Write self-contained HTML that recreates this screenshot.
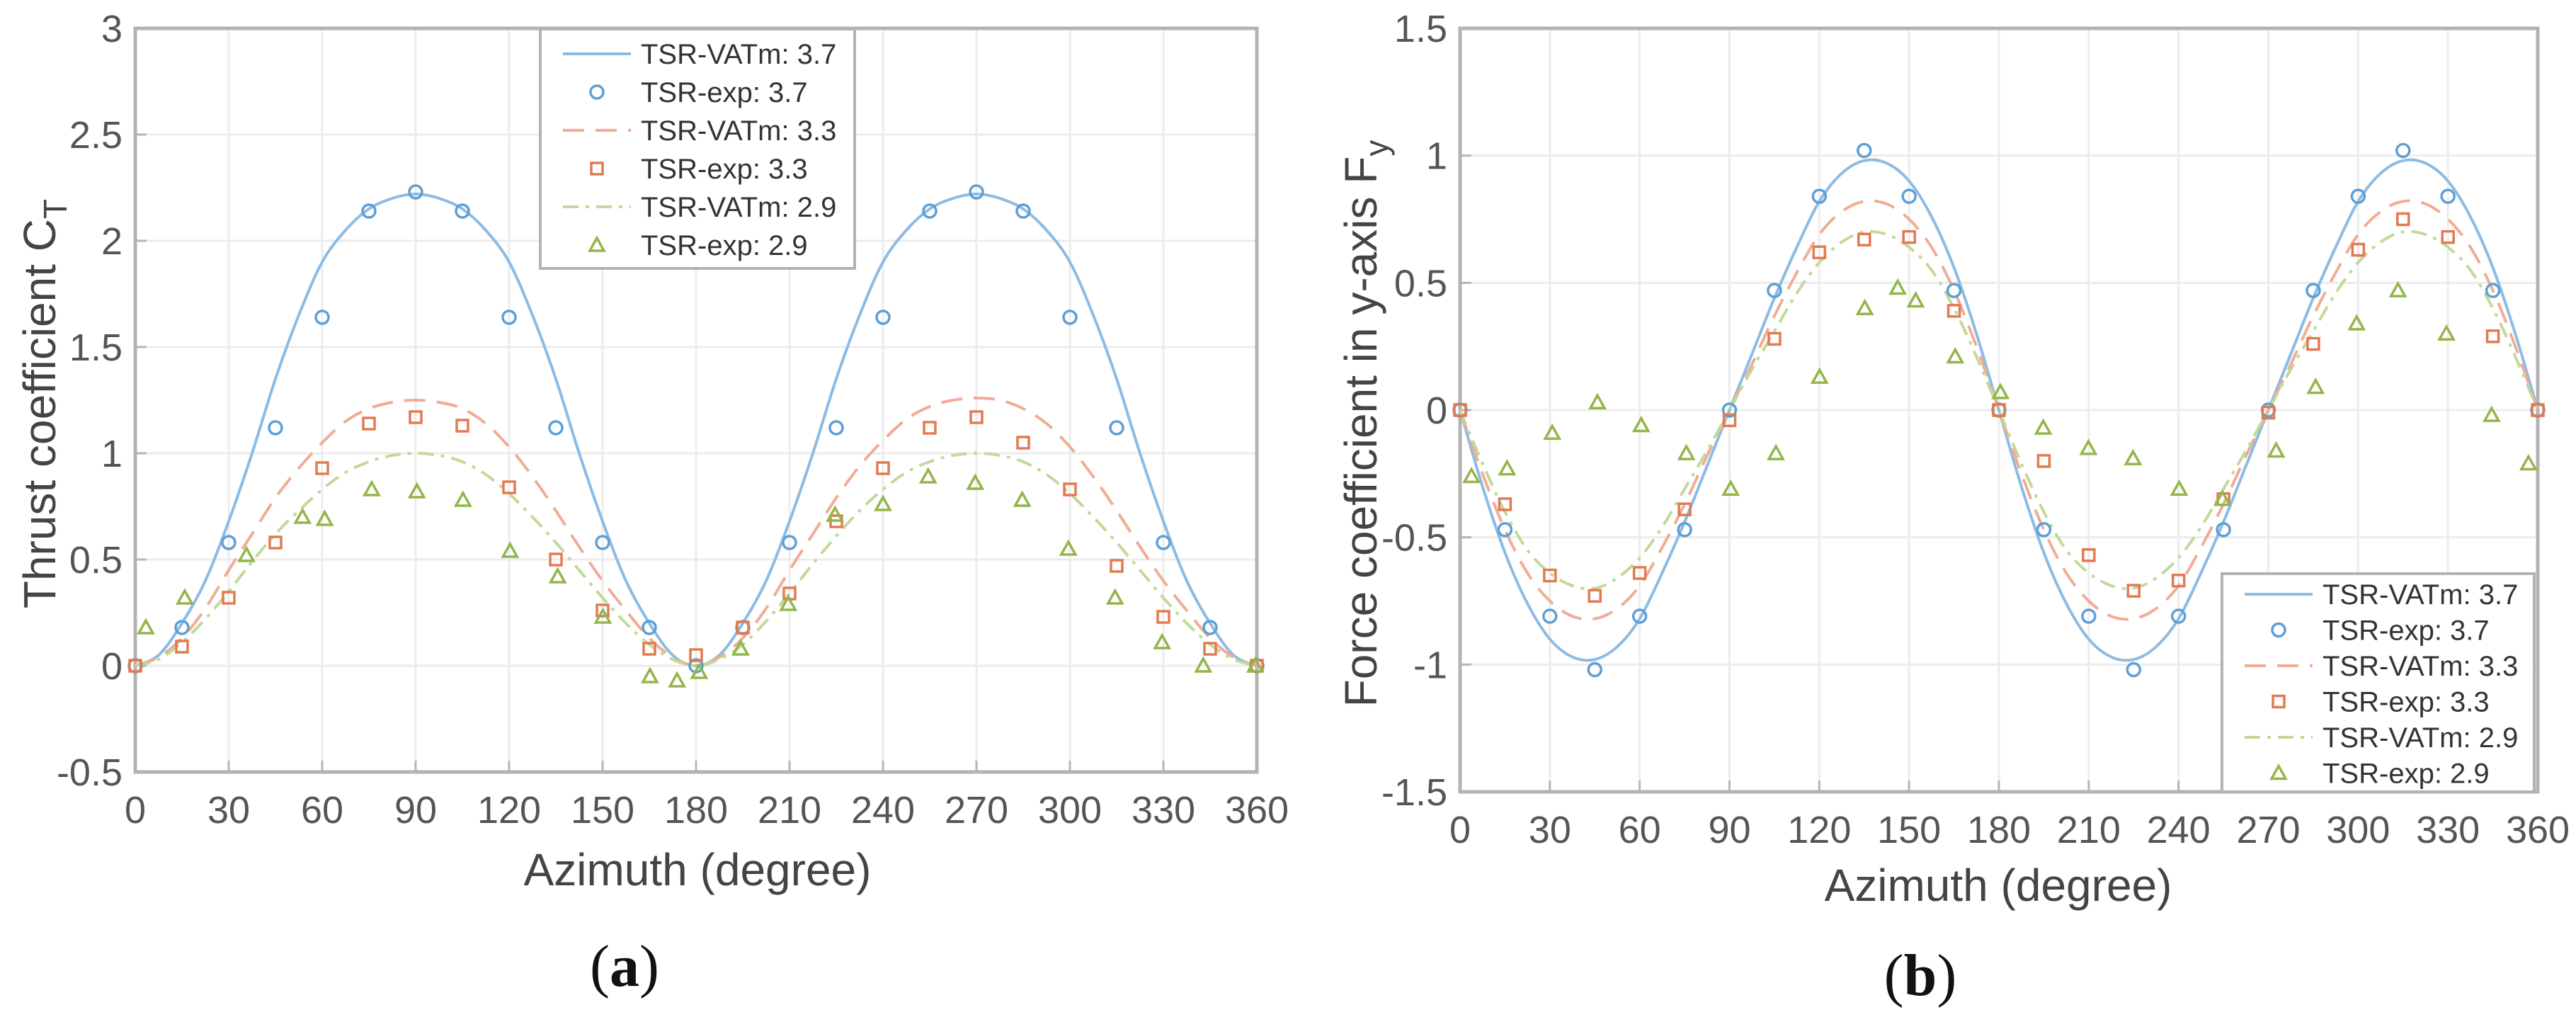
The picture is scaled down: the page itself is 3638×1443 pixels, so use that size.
<!DOCTYPE html>
<html><head><meta charset="utf-8"><style>
html,body{margin:0;padding:0;background:#fff;}
svg{display:block;font-family:"Liberation Sans",sans-serif;}
</style></head><body>
<svg id="fig" width="3638" height="1443" viewBox="0 0 3638 1443" xmlns="http://www.w3.org/2000/svg"></svg>
<script>
// ---------- Chart (a) data ----------
const aLineX = [0,7.5,15,22.5,30,37.5,45,52.5,60,67.5,75,82.5,90,97.5,105,112.5,120,127.5,135,142.5,150,157.5,165,172.5,180,187.5,195,202.5,210,217.5,225,232.5,240,247.5,255,262.5,270,277.5,285,292.5,300,307.5,315,322.5,330,337.5,345,352.5,360];
const aVat37 = [0,0.05,0.2,0.4,0.68,1.0,1.35,1.65,1.9,2.05,2.15,2.2,2.22,2.2,2.15,2.05,1.9,1.65,1.35,1.0,0.68,0.4,0.2,0.05,0,0.05,0.2,0.4,0.68,1.0,1.35,1.65,1.9,2.05,2.15,2.2,2.22,2.2,2.15,2.05,1.9,1.65,1.35,1.0,0.68,0.4,0.2,0.05,0];
const aVat33 = [0,0.04,0.13,0.27,0.45,0.62,0.79,0.93,1.05,1.15,1.21,1.24,1.25,1.24,1.21,1.14,1.03,0.89,0.73,0.56,0.4,0.26,0.13,0.04,0,0.04,0.13,0.27,0.45,0.62,0.79,0.94,1.06,1.16,1.22,1.25,1.26,1.25,1.21,1.14,1.03,0.89,0.73,0.56,0.4,0.26,0.13,0.04,0];
const aVat29 = [0,0.03,0.11,0.22,0.35,0.49,0.62,0.73,0.83,0.91,0.96,0.99,1.0,0.99,0.96,0.9,0.81,0.7,0.58,0.45,0.32,0.2,0.1,0.03,0,0.03,0.1,0.21,0.34,0.48,0.61,0.73,0.83,0.91,0.96,0.99,1.0,0.99,0.96,0.9,0.81,0.7,0.58,0.45,0.32,0.2,0.1,0.03,0];
const aExpX = [0,15,30,45,60,75,90,105,120,135,150,165,180,195,210,225,240,255,270,285,300,315,330,345,360];
const aExp37 = [0,0.18,0.58,1.12,1.64,2.14,2.23,2.14,1.64,1.12,0.58,0.18,0.0,0.18,0.58,1.12,1.64,2.14,2.23,2.14,1.64,1.12,0.58,0.18,0];
const aExp33 = [0,0.09,0.32,0.58,0.93,1.14,1.17,1.13,0.84,0.5,0.26,0.08,0.05,0.18,0.34,0.68,0.93,1.12,1.17,1.05,0.83,0.47,0.23,0.08,0];
const aExp29X = [3.4,15.9,35.7,53.7,60.8,75.9,90.4,105.2,120.3,135.6,150.1,165.2,173.9,181,194.3,209.6,224.6,240,254.5,269.6,284.7,299.5,314.5,329.6,342.8,359.5];
const aExp29 = [0.18,0.32,0.52,0.70,0.69,0.83,0.82,0.78,0.54,0.42,0.23,-0.05,-0.07,-0.03,0.08,0.29,0.71,0.76,0.89,0.86,0.78,0.55,0.32,0.11,0.0,0];
const aYTicks = [-0.5,0,0.5,1,1.5,2,2.5,3];
const aYTickLabels = ["-0.5","0","0.5","1","1.5","2","2.5","3"];
// ---------- Chart (b) data ----------
const bLineX = [0,7.5,15,22.5,30,37.5,45,52.5,60,67.5,75,82.5,90,97.5,105,112.5,120,127.5,135,142.5,150,157.5,165,172.5,180,187.5,195,202.5,210,217.5,225,232.5,240,247.5,255,262.5,270,277.5,285,292.5,300,307.5,315,322.5,330,337.5,345,352.5,360];
const bVat37 = [0,-0.3,-0.56,-0.76,-0.9,-0.97,-0.98,-0.93,-0.82,-0.64,-0.44,-0.22,0,0.22,0.44,0.64,0.82,0.93,0.98,0.97,0.9,0.76,0.56,0.3,0,-0.3,-0.56,-0.76,-0.9,-0.97,-0.98,-0.93,-0.82,-0.64,-0.44,-0.22,0,0.22,0.44,0.64,0.82,0.93,0.98,0.97,0.9,0.76,0.56,0.3,0];
const bVat33 = [0,-0.25,-0.47,-0.64,-0.75,-0.81,-0.82,-0.78,-0.69,-0.54,-0.37,-0.18,0,0.18,0.37,0.54,0.69,0.78,0.82,0.81,0.75,0.64,0.47,0.25,0,-0.25,-0.47,-0.64,-0.75,-0.81,-0.82,-0.78,-0.69,-0.54,-0.37,-0.18,0,0.18,0.37,0.54,0.69,0.78,0.82,0.81,0.75,0.64,0.47,0.25,0];
const bVat29 = [0,-0.21,-0.4,-0.55,-0.64,-0.69,-0.7,-0.66,-0.58,-0.46,-0.31,-0.16,0,0.16,0.31,0.46,0.58,0.66,0.7,0.69,0.64,0.55,0.4,0.21,0,-0.21,-0.4,-0.55,-0.64,-0.69,-0.7,-0.66,-0.58,-0.46,-0.31,-0.16,0,0.16,0.31,0.46,0.58,0.66,0.7,0.69,0.64,0.55,0.4,0.21,0];
const bExpX = [0,15,30,45,60,75,90,105,120,135,150,165,180,195,210,225,240,255,270,285,300,315,330,345,360];
const bExp37 = [0,-0.47,-0.81,-1.02,-0.81,-0.47,0,0.47,0.84,1.02,0.84,0.47,0,-0.47,-0.81,-1.02,-0.81,-0.47,0,0.47,0.84,1.02,0.84,0.47,0];
const bExp33 = [0,-0.37,-0.65,-0.73,-0.64,-0.39,-0.04,0.28,0.62,0.67,0.68,0.39,0,-0.2,-0.57,-0.71,-0.67,-0.35,-0.01,0.26,0.63,0.75,0.68,0.29,0];
const bExp29X = [3.8,15.7,30.8,45.9,60.5,75.6,90.4,105.5,120.1,135.2,146.2,152.2,165.4,180.5,194.8,209.9,224.8,240.2,254.7,272.6,285.8,299.5,313.3,329.5,344.6,356.9];
const bExp29 = [-0.26,-0.23,-0.09,0.03,-0.06,-0.17,-0.31,-0.17,0.13,0.40,0.48,0.43,0.21,0.07,-0.07,-0.15,-0.19,-0.31,-0.35,-0.16,0.09,0.34,0.47,0.30,-0.02,-0.21];
const bYTicks = [-1.5,-1,-0.5,0,0.5,1,1.5];
const bYTickLabels = ["-1.5","-1","-0.5","0","0.5","1","1.5"];
// shared
const xTicks = [0,30,60,90,120,150,180,210,240,270,300,330,360];
const xTickLabels = ["0","30","60","90","120","150","180","210","240","270","300","330","360"];
const legendLabels = ["TSR-VATm: 3.7","TSR-exp: 3.7","TSR-VATm: 3.3","TSR-exp: 3.3","TSR-VATm: 2.9","TSR-exp: 2.9"];

const NS="http://www.w3.org/2000/svg";
const svg=document.getElementById('fig');
function mk(tag,attrs,parent){const e=document.createElementNS(NS,tag);for(const k in attrs)e.setAttribute(k,attrs[k]);(parent||svg).appendChild(e);return e;}
const BLUE="#5d9fd6", BLUEL="#8cbbe4", ORG="#e27a52", ORGL="#f0ad95", GRN="#93b64a", GRNL="#c2d99a";

function smooth(pts){let d=`M${pts[0][0]},${pts[0][1]}`;for(let i=0;i<pts.length-1;i++){const p0=pts[Math.max(0,i-1)],p1=pts[i],p2=pts[i+1],p3=pts[Math.min(pts.length-1,i+2)];d+=` C${p1[0]+(p2[0]-p0[0])/6},${p1[1]+(p2[1]-p0[1])/6} ${p2[0]-(p3[0]-p1[0])/6},${p2[1]-(p3[1]-p1[1])/6} ${p2[0]},${p2[1]}`;}return d;}

function marker(g,type,cx,cy,color){
  if(type==='o'){const e=mk('circle',{cx,cy,r:9,fill:'none',stroke:color,'stroke-width':3.5},g);}
  else if(type==='s'){const e=mk('rect',{x:cx-8,y:cy-8,width:16,height:16,fill:'none',stroke:color,'stroke-width':3.5},g);}
  else {const e=mk('polygon',{points:`${cx},${cy-10} ${cx-10},${cy+8} ${cx+10},${cy+8}`,fill:'none',stroke:color,'stroke-width':3.5},g);}
}

function chart(c){
  const g=mk('g',{});
  const sx=v=>c.x0+(v-0)/360*(c.x1-c.x0);
  const sy=v=>c.y1-(v-c.ymin)/(c.ymax-c.ymin)*(c.y1-c.y0);
  xTicks.forEach((t,i)=>{const l=mk('line',{x1:sx(t),x2:sx(t),y1:c.y0,y2:c.y1,stroke:'#ececec','stroke-width':3},g);
    const tk=mk('line',{x1:sx(t),x2:sx(t),y1:c.y1,y2:c.y1-16,stroke:'#b5b5b5','stroke-width':3},g);
    const tx=mk('text',{x:sx(t),y:c.y1+72,'font-size':54,fill:'#555','text-anchor':'middle'},g);tx.textContent=xTickLabels[i];});
  c.yt.forEach((t,i)=>{const l=mk('line',{x1:c.x0,x2:c.x1,y1:sy(t),y2:sy(t),stroke:'#ececec','stroke-width':3},g);
    const tk=mk('line',{x1:c.x0,x2:c.x0+16,y1:sy(t),y2:sy(t),stroke:'#b5b5b5','stroke-width':3},g);
    const tx=mk('text',{x:c.x0-18,y:sy(t)+19,'font-size':54,fill:'#555','text-anchor':'end'},g);tx.textContent=c.ytl[i];});
  const box=mk('rect',{x:c.x0,y:c.y0,width:c.x1-c.x0,height:c.y1-c.y0,fill:'none',stroke:'#b3b3b3','stroke-width':5},g);
  const lines=[[c.v37,BLUEL,'none','vatm-3.7-line'],[c.v33,ORGL,'30 16','vatm-3.3-line'],[c.v29,GRNL,'22 10 5 10','vatm-2.9-line']];
  lines.forEach(L=>{const p=mk('path',{d:smooth(c.lx.map((x,i)=>[sx(x),sy(L[0][i])])),fill:'none',stroke:L[1],'stroke-width':4,'stroke-dasharray':L[2]},g);});
  c.ex.forEach((x,i)=>marker(g,'o',sx(x),sy(c.e37[i]),BLUE));
  c.ex.forEach((x,i)=>marker(g,'s',sx(x),sy(c.e33[i]),ORG));
  c.e29x.forEach((x,i)=>marker(g,'t',sx(x),sy(c.e29[i]),GRN));
  const xl=mk('text',{x:c.xlx,y:c.xly,'font-size':64,fill:'#444','text-anchor':'middle'},g);xl.textContent='Azimuth (degree)';
  const yl=mk('text',{x:0,y:0,'font-size':64,fill:'#444','text-anchor':'middle',transform:`translate(${c.ylx},${c.yly}) rotate(-90)`},g);
  yl.appendChild(document.createTextNode(c.ylab));const sub=mk('tspan',{'font-size':46,dy:16},yl);sub.textContent=c.ysub;
  const pl=mk('text',{x:c.plx,y:c.ply,'font-size':84,fill:'#111','text-anchor':'middle','font-family':'Liberation Serif, serif'},g);
  pl.appendChild(document.createTextNode('('));const b=mk('tspan',{'font-weight':'bold'},pl);b.textContent=c.panel;pl.appendChild(document.createTextNode(')'));
  const lg=mk('g',{},g);
  const lb=mk('rect',{x:c.lgx,y:c.lgy,width:c.lgw,height:c.lgh,fill:'#fff',stroke:'#b3b3b3','stroke-width':4},lg);
  const styles=[['l',BLUEL,'none'],['o',BLUE],['l',ORGL,'30 16'],['s',ORG],['l',GRNL,'22 10 5 10'],['t',GRN]];
  styles.forEach((s,i)=>{const yy=c.lgy+c.lgo+i*c.lgs;const ent=mk('g',{},lg);
    if(s[0]==='l'){mk('line',{x1:c.lgx+32,x2:c.lgx+128,y1:yy,y2:yy,stroke:s[1],'stroke-width':4,'stroke-dasharray':s[2]},ent);}
    else marker(ent,s[0],c.lgx+80,yy,s[1]);
    const t=mk('text',{x:c.lgx+142,y:yy+14,'font-size':40,fill:'#333'},ent);t.textContent=legendLabels[i];});
}
chart({name:'chart-a-thrust',x0:191,x1:1775,y0:40,y1:1090,ymin:-0.5,ymax:3,yt:aYTicks,ytl:aYTickLabels,
  lx:aLineX,v37:aVat37,v33:aVat33,v29:aVat29,ex:aExpX,e37:aExp37,e33:aExp33,e29x:aExp29X,e29:aExp29,
  xlx:985,xly:1250,ylx:78,yly:570,ylab:'Thrust coefficient C',ysub:'T',plx:882,ply:1392,panel:'a',
  lgx:763,lgy:41,lgw:444,lgh:338,lgo:35,lgs:54});
chart({name:'chart-b-force-y',x0:2062,x1:3584,y0:40,y1:1118,ymin:-1.5,ymax:1.5,yt:bYTicks,ytl:bYTickLabels,
  lx:bLineX,v37:bVat37,v33:bVat33,v29:bVat29,ex:bExpX,e37:bExp37,e33:bExp33,e29x:bExp29X,e29:bExp29,
  xlx:2822,xly:1272,ylx:1944,yly:598,ylab:'Force coefficient in y-axis F',ysub:'y',plx:2712,ply:1405,panel:'b',
  lgx:3138,lgy:810,lgw:441,lgh:308,lgo:29,lgs:50.5});
</script>
</body></html>
